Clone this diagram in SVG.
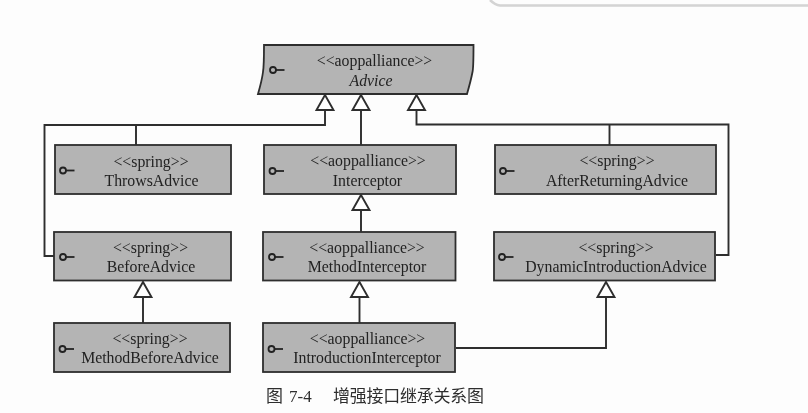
<svg xmlns="http://www.w3.org/2000/svg" width="808" height="413" viewBox="0 0 808 413">
<style>
.box{fill:#b4b4b4;stroke:#2e2e2e;stroke-width:1.8}
.t{font-family:"Liberation Serif","Times New Roman",serif;font-size:15.8px;fill:#222;text-anchor:middle}
.i{font-style:italic}
.key{fill:none;stroke:#222;stroke-width:1.8}
.c{fill:none;stroke:#2e2e2e;stroke-width:1.9}
.h{fill:#fff;stroke:#2e2e2e;stroke-width:1.9}
.cap{font-family:"Noto Sans CJK SC","Liberation Serif",serif;font-size:17px;fill:#2e2e2e}
.capn{font-family:"Liberation Serif",serif;font-size:17px;fill:#2e2e2e}
</style>
<defs>
<g id="k"><circle cx="0" cy="0" r="3" class="key"/><path d="M3 0H11.500" class="key"/></g>
<filter id="b" x="-5%" y="-5%" width="110%" height="110%"><feGaussianBlur stdDeviation="0.35"/></filter>
</defs>
<rect width="808" height="413" fill="#fdfdfd"/>
<g filter="url(#b)">
<path d="M490 0C493 3 495 5 500 5.500H808" fill="none" stroke="#d4d4d4" stroke-width="2.500"/>
<g id="connectors">
<path class="c" d="M325 110V125H44.500V256H54"/>
<path class="c" d="M136 125V145"/>
<path class="c" d="M361 110V145"/>
<path class="c" d="M416.500 110V124.500H728.500V255H716"/>
<path class="c" d="M609.500 124.500V145"/>
<path class="c" d="M361 210V232"/>
<path class="c" d="M359.500 297V323"/>
<path class="c" d="M143 297V323"/>
<path class="c" d="M606 297V348H456"/>
<path class="h" d="M325 95L333.500 110H316.500Z"/>
<path class="h" d="M361 95L369.500 110H352.500Z"/>
<path class="h" d="M416.500 95L425 110H408Z"/>
<path class="h" d="M361 195L369.500 210H352.500Z"/>
<path class="h" d="M359.500 282L368 297H351Z"/>
<path class="h" d="M143 282L151.500 297H134.500Z"/>
<path class="h" d="M606 282L614.500 297H597.500Z"/>
</g>
<g id="advice">
<path class="box" d="M264 45H473.500C473.500 60 473.500 68 472.500 72C471 80 469 87 467 94H258C260 87 262 80 263 72C264 66 264 60 264 45Z"/>
<use href="#k" x="273" y="70"/>
<text class="t" x="374.500" y="66">&lt;&lt;aoppalliance&gt;&gt;</text>
<text class="t i" x="371" y="86">Advice</text>
</g>
<g id="throws">
<rect class="box" x="55" y="145" width="176" height="49"/>
<use href="#k" x="63" y="170.500"/>
<text class="t" x="151" y="167">&lt;&lt;spring&gt;&gt;</text>
<text class="t" x="151.500" y="186">ThrowsAdvice</text>
</g>
<g id="interceptor">
<rect class="box" x="264" y="145" width="192" height="49"/>
<use href="#k" x="272.500" y="171"/>
<text class="t" x="368" y="166">&lt;&lt;aoppalliance&gt;&gt;</text>
<text class="t" x="367.500" y="186">Interceptor</text>
</g>
<g id="afterReturning">
<rect class="box" x="495" y="145" width="221" height="49"/>
<use href="#k" x="503" y="171"/>
<text class="t" x="617" y="166">&lt;&lt;spring&gt;&gt;</text>
<text class="t" x="617" y="186">AfterReturningAdvice</text>
</g>
<g id="before">
<rect class="box" x="54" y="232" width="177" height="48.500"/>
<use href="#k" x="63" y="257"/>
<text class="t" x="150.500" y="253">&lt;&lt;spring&gt;&gt;</text>
<text class="t" x="151" y="272">BeforeAdvice</text>
</g>
<g id="methodInterceptor">
<rect class="box" x="263" y="232" width="192.500" height="48.500"/>
<use href="#k" x="272" y="257"/>
<text class="t" x="367" y="253">&lt;&lt;aoppalliance&gt;&gt;</text>
<text class="t" x="367" y="272">MethodInterceptor</text>
</g>
<g id="dynamic">
<rect class="box" x="494" y="232" width="221" height="48.500"/>
<use href="#k" x="502" y="257"/>
<text class="t" x="616" y="253">&lt;&lt;spring&gt;&gt;</text>
<text class="t" x="616" y="272">DynamicIntroductionAdvice</text>
</g>
<g id="methodBefore">
<rect class="box" x="54" y="323" width="176" height="49"/>
<use href="#k" x="62.500" y="349"/>
<text class="t" x="150" y="344">&lt;&lt;spring&gt;&gt;</text>
<text class="t" x="150" y="363">MethodBeforeAdvice</text>
</g>
<g id="introduction">
<rect class="box" x="263" y="323" width="192" height="49"/>
<use href="#k" x="271.500" y="349"/>
<text class="t" x="367.500" y="344">&lt;&lt;aoppalliance&gt;&gt;</text>
<text class="t" x="367" y="363">IntroductionInterceptor</text>
</g>
<g id="caption">
<text class="cap" x="266" y="402">图</text>
<text class="capn" x="289" y="402">7-4</text>
<text class="cap" x="333" y="402" textLength="151">增强接口继承关系图</text>
</g>
</g>
</svg>
